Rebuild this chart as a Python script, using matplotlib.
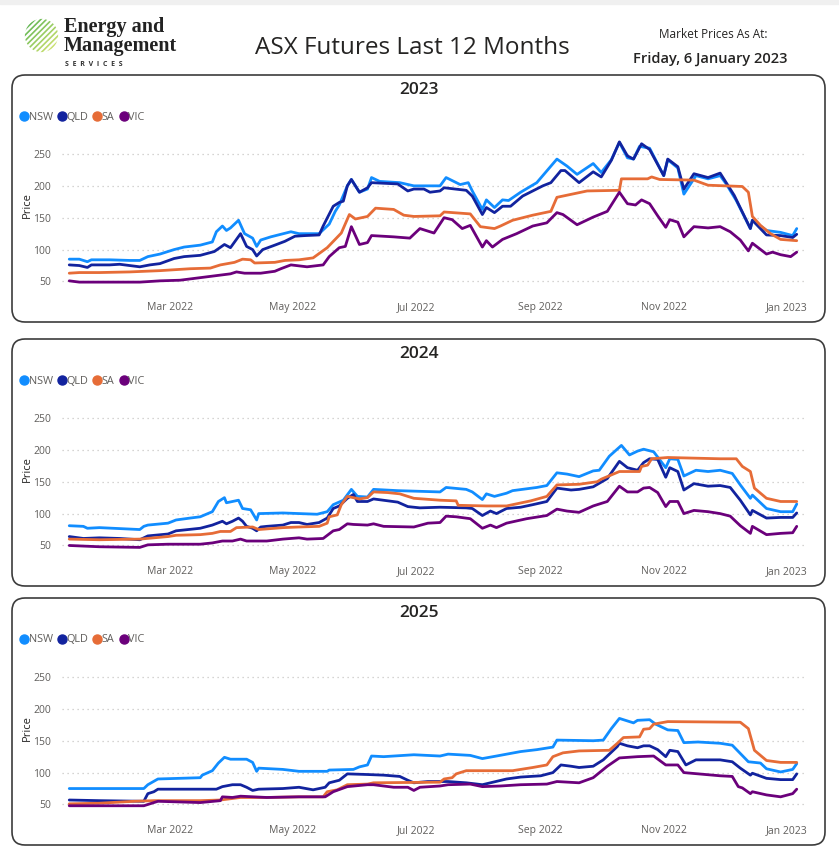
import numpy as np
import pandas as pd
import matplotlib.pyplot as plt
from matplotlib.patches import FancyBboxPatch, Circle, Rectangle
from matplotlib.lines import Line2D

plt.rcParams['font.family'] = ['Open Sans', 'DejaVu Sans']

# ---- data: (days since 1 Jan 2022, price) ----
nsw_2023 = [(9, 85), (14, 85), (18, 81), (20, 84), (29, 84), (39, 83), (44, 83), (48, 89), (54, 93),
            (61, 100), (66, 104), (74, 107), (80, 112), (82, 128), (85, 137), (87, 130), (89, 134),
            (93, 146), (96, 125), (100, 118), (102, 105), (104, 115), (109, 120), (114, 124),
            (119, 128), (123, 125), (133, 125), (138, 140), (141, 160), (143, 170), (147, 200),
            (149, 210), (153, 190), (157, 195), (159, 213), (163, 207), (173, 205), (180, 200),
            (193, 200), (196, 213), (203, 202), (207, 205), (209, 192), (214, 163), (216, 178),
            (220, 166), (224, 178), (227, 177), (233, 190), (241, 205), (251, 242), (256, 231),
            (261, 218), (269, 235), (273, 221), (278, 241), (282, 268), (286, 244), (289, 242),
            (292, 262), (297, 259), (304, 216), (306, 241), (311, 228), (314, 187), (320, 216),
            (326, 211), (332, 216), (335, 203), (340, 177), (347, 133), (348, 146), (355, 130),
            (362, 127), (368, 122), (370, 133)]
qld_2023 = [(9, 76), (14, 75), (18, 72), (20, 76), (29, 76), (34, 77), (39, 75), (44, 73), (49, 76),
            (54, 78), (61, 86), (66, 89), (74, 91), (81, 97), (86, 108), (89, 103), (94, 125),
            (97, 105), (100, 100), (102, 90), (105, 100), (111, 107), (116, 113), (121, 121),
            (126, 122), (133, 123), (135, 137), (140, 168), (143, 174), (145, 176), (147, 200),
            (149, 210), (153, 190), (157, 197), (159, 205), (172, 203), (177, 192), (180, 195),
            (185, 195), (188, 190), (193, 192), (195, 197), (206, 193), (209, 184), (214, 155),
            (216, 166), (220, 158), (224, 168), (228, 168), (234, 184), (244, 200), (248, 205),
            (253, 224), (255, 224), (262, 205), (269, 222), (273, 214), (278, 240), (282, 269),
            (286, 247), (289, 242), (293, 266), (297, 257), (304, 216), (306, 242), (311, 230),
            (314, 195), (319, 219), (326, 213), (332, 220), (335, 205), (339, 185), (347, 133),
            (348, 146), (355, 123), (362, 122), (368, 119), (370, 124)]
sa_2023 = [(9, 63), (14, 64), (24, 64), (39, 65), (54, 67), (69, 70), (79, 71), (84, 76), (91, 80),
           (95, 85), (99, 84), (101, 79), (111, 80), (116, 83), (123, 84), (130, 87), (137, 103),
           (144, 126), (148, 155), (151, 148), (157, 152), (161, 165), (170, 163), (175, 154),
           (180, 152), (193, 153), (195, 159), (208, 156), (213, 136), (220, 133), (223, 137),
           (229, 146), (239, 154), (248, 160), (251, 182), (266, 192), (282, 193), (283, 211),
           (296, 211), (298, 214), (302, 210), (319, 209), (326, 201), (343, 199), (346, 190),
           (348, 152), (352, 138), (357, 125), (362, 116), (370, 114)]
vic_2023 = [(9, 51), (14, 49), (24, 49), (44, 49), (54, 51), (64, 52), (74, 56), (84, 60), (89, 62),
            (92, 65), (96, 63), (104, 63), (111, 66), (114, 70), (119, 76), (127, 73), (135, 76),
            (138, 89), (143, 103), (146, 105), (149, 136), (153, 108), (157, 111), (159, 122),
            (170, 120), (178, 118), (183, 133), (190, 126), (195, 150), (199, 147), (204, 133),
            (208, 138), (214, 104), (216, 114), (219, 104), (224, 116), (231, 125), (239, 137),
            (246, 142), (251, 158), (254, 155), (261, 139), (269, 151), (276, 160), (282, 190),
            (286, 172), (290, 170), (293, 178), (297, 172), (301, 153), (305, 135), (307, 147),
            (311, 143), (314, 120), (319, 136), (326, 134), (332, 136), (337, 128), (342, 115),
            (346, 98), (348, 110), (355, 93), (358, 96), (362, 92), (367, 89), (370, 96)]

nsw_2024 = [(9, 81), (16, 80), (18, 77), (24, 78), (44, 75), (46, 80), (48, 82), (58, 85), (62, 90),
            (69, 93), (74, 95), (80, 103), (83, 119), (86, 125), (87, 117), (90, 119), (93, 121),
            (95, 108), (99, 106), (102, 90), (103, 100), (115, 101), (132, 99), (137, 103),
            (140, 114), (145, 121), (149, 138), (152, 127), (157, 126), (160, 138), (172, 136),
            (193, 134), (196, 141), (206, 138), (209, 134), (214, 122), (216, 131), (220, 127),
            (226, 132), (229, 136), (241, 141), (246, 144), (251, 164), (256, 162), (262, 158),
            (269, 167), (272, 168), (277, 190), (283, 207), (287, 192), (291, 198), (294, 201),
            (299, 197), (305, 172), (307, 186), (311, 185), (314, 159), (320, 168), (326, 166),
            (332, 168), (338, 163), (342, 145), (347, 124), (348, 129), (355, 108), (362, 103),
            (368, 103), (370, 115)]
qld_2024 = [(9, 64), (16, 61), (24, 62), (34, 61), (44, 59), (48, 65), (58, 68), (62, 73), (74, 77),
            (80, 82), (85, 88), (87, 84), (90, 88), (93, 93), (95, 88), (97, 80), (100, 77),
            (102, 73), (104, 79), (107, 80), (115, 82), (119, 86), (123, 86), (127, 83), (133, 86),
            (137, 93), (140, 108), (143, 112), (147, 124), (150, 130), (152, 119), (157, 119),
            (160, 123), (172, 118), (177, 111), (183, 109), (193, 110), (206, 109), (209, 108),
            (214, 97), (218, 104), (221, 100), (226, 108), (233, 110), (239, 114), (246, 119),
            (251, 140), (258, 137), (262, 138), (269, 142), (276, 155), (282, 182), (286, 172),
            (291, 168), (294, 180), (297, 186), (301, 185), (305, 157), (307, 172), (311, 166),
            (314, 137), (319, 147), (326, 143), (332, 144), (337, 141), (342, 121), (347, 98),
            (348, 105), (355, 93), (362, 94), (368, 94), (370, 101)]
sa_2024 = [(9, 60), (24, 59), (44, 60), (58, 64), (62, 66), (74, 67), (80, 69), (84, 72), (89, 72),
           (92, 78), (100, 79), (103, 75), (107, 76), (115, 78), (123, 79), (133, 80), (137, 85),
           (138, 95), (142, 98), (144, 114), (147, 127), (150, 125), (153, 123), (157, 125),
           (160, 134), (167, 133), (173, 131), (180, 124), (193, 121), (201, 120), (202, 113),
           (216, 112), (226, 112), (238, 120), (246, 127), (251, 145), (262, 146), (271, 150),
           (273, 154), (282, 166), (292, 166), (293, 174), (296, 176), (298, 186), (306, 188),
           (332, 186), (340, 186), (343, 174), (347, 166), (349, 140), (355, 124), (362, 119),
           (370, 119)]
vic_2024 = [(9, 50), (24, 48), (44, 47), (48, 51), (58, 52), (74, 52), (80, 54), (85, 57), (90, 57),
            (94, 60), (97, 57), (107, 57), (115, 60), (123, 62), (127, 60), (135, 61), (140, 73),
            (143, 75), (147, 84), (150, 83), (157, 82), (160, 84), (165, 80), (180, 79), (187, 85),
            (193, 86), (196, 96), (201, 95), (208, 92), (214, 77), (218, 82), (221, 78), (226, 85),
            (236, 92), (246, 97), (251, 107), (256, 104), (262, 102), (269, 112), (276, 119),
            (282, 143), (286, 134), (291, 134), (294, 140), (297, 141), (301, 133), (305, 111),
            (307, 119), (311, 119), (314, 100), (319, 105), (326, 103), (332, 100), (337, 96),
            (342, 81), (347, 69), (348, 80), (355, 67), (362, 69), (368, 70), (370, 80)]

nsw_2025 = [(9, 75), (46, 75), (48, 81), (53, 90), (74, 92), (75, 96), (80, 103), (83, 115),
            (86, 124), (89, 121), (97, 121), (100, 116), (102, 102), (103, 107), (115, 105),
            (123, 102), (137, 102), (138, 104), (150, 105), (153, 109), (157, 112), (159, 126),
            (165, 125), (170, 126), (180, 128), (193, 126), (197, 129), (208, 127), (214, 122),
            (221, 126), (233, 133), (241, 136), (249, 140), (251, 151), (269, 150), (274, 151),
            (278, 169), (282, 185), (286, 181), (289, 178), (291, 182), (297, 183), (300, 176),
            (306, 167), (311, 166), (314, 147), (321, 148), (332, 146), (338, 143), (346, 117),
            (352, 115), (355, 106), (362, 101), (368, 105), (370, 114)]
qld_2025 = [(9, 57), (24, 56), (46, 55), (48, 67), (51, 70), (53, 74), (82, 74), (85, 78), (90, 81),
            (94, 81), (97, 77), (100, 72), (103, 74), (115, 75), (123, 77), (130, 73), (136, 77),
            (138, 84), (143, 88), (147, 98), (157, 97), (165, 96), (173, 94), (177, 88), (180, 84),
            (187, 86), (197, 86), (206, 84), (214, 81), (226, 90), (233, 93), (243, 95), (249, 100),
            (253, 112), (258, 110), (262, 108), (269, 110), (274, 120), (281, 141), (282, 146),
            (286, 142), (291, 139), (294, 142), (297, 142), (301, 136), (305, 125), (307, 135),
            (311, 133), (315, 112), (320, 120), (332, 120), (338, 117), (342, 107), (347, 96),
            (348, 99), (355, 91), (362, 89), (368, 89), (370, 98)]
sa_2025 = [(9, 51), (24, 52), (41, 55), (51, 56), (74, 56), (84, 57), (94, 61), (107, 61), (123, 62),
           (135, 62), (137, 70), (142, 73), (147, 81), (157, 82), (160, 84), (193, 85), (195, 90),
           (199, 92), (201, 98), (206, 103), (229, 103), (239, 108), (246, 112), (249, 125),
           (254, 131), (262, 134), (277, 135), (281, 146), (284, 155), (292, 156), (294, 168),
           (297, 169), (299, 176), (306, 180), (342, 179), (346, 169), (349, 135), (355, 119),
           (362, 116), (370, 116)]
vic_2025 = [(9, 48), (46, 48), (51, 53), (53, 55), (74, 53), (84, 56), (85, 62), (90, 61), (94, 63),
            (107, 61), (123, 62), (136, 62), (140, 70), (147, 78), (157, 81), (160, 81), (170, 77),
            (177, 77), (180, 72), (183, 77), (193, 79), (197, 81), (208, 82), (214, 78), (223, 79),
            (233, 81), (246, 82), (251, 86), (262, 84), (269, 92), (276, 110), (282, 123),
            (291, 125), (299, 126), (305, 112), (311, 112), (314, 100), (332, 95), (338, 94),
            (341, 78), (343, 76), (347, 67), (348, 70), (355, 65), (362, 62), (368, 67), (370, 74)]

regions = ['NSW', 'QLD', 'SA', 'VIC']
colors = ['#118DFF', '#12239E', '#E66C37', '#6B007B']
panels = {
    '2023': [nsw_2023, qld_2023, sa_2023, vic_2023],
    '2024': [nsw_2024, qld_2024, sa_2024, vic_2024],
    '2025': [nsw_2025, qld_2025, sa_2025, vic_2025],
}
yticks = [50, 100, 150, 200, 250]
tick_dates = pd.to_datetime(['2022-03-01', '2022-05-01', '2022-07-01',
                             '2022-09-01', '2022-11-01', '2023-01-01'])
base = pd.Timestamp('2022-01-01')

# ---- figure, laid out in pixels ----
W, H = 839, 864
fig = plt.figure(figsize=(W / 100, H / 100), dpi=100)


def fx(px):
    return px / W


def fy(py):
    return 1 - py / H


# faint band at top
fig.patches.append(Rectangle((0, fy(4)), 1, 4 / H, transform=fig.transFigure,
                             color='#F0F0F0', zorder=-2))

# logo
ax_logo = fig.add_axes([fx(24), fy(53), 35 / W, 35 / H])
ax_logo.set_xlim(-1, 1)
ax_logo.set_ylim(-1, 1)
ax_logo.set_aspect('equal')
ax_logo.axis('off')
clip = Circle((0, 0), 0.95, transform=ax_logo.transData)
lime = np.array([0.84, 0.90, 0.45, 1.0])
green = np.array([0.35, 0.70, 0.32, 1.0])
for i, c in enumerate(np.linspace(-1.6, 1.6, 11)):
    col = lime * (1 - i / 10) + green * (i / 10)
    ln, = ax_logo.plot([-1.2, 1.2], [-1.2 + c, 1.2 + c], color=col, lw=1.2)
    ln.set_clip_path(clip)

fig.text(fx(64), fy(27), 'Energy and', fontsize=14.5, fontweight='bold',
         family='Liberation Serif', color='#222222', va='center')
fig.text(fx(64), fy(46), 'Management', fontsize=14.5, fontweight='bold',
         family='Liberation Serif', color='#222222', va='center')
fig.text(fx(65), fy(65), 'S  E  R  V  I  C  E  S', fontsize=5, fontweight='bold',
         color='#333333', va='center')

fig.text(fx(412), fy(48), 'ASX Futures Last 12 Months', fontsize=17.5,
         color='#252423', ha='center', va='center')
fig.text(fx(713), fy(34), 'Market Prices As At:', fontsize=8.5,
         color='#252423', ha='center', va='center')
fig.text(fx(710), fy(59), 'Friday, 6 January 2023', fontsize=10.5,
         fontweight='semibold', color='#252423', ha='center', va='center')

tops = [75, 339, 598]
for (year, series), T in zip(panels.items(), tops):
    box = FancyBboxPatch((12 / 100, (H - T - 247) / 100), 813 / 100, 247 / 100,
                         boxstyle='round,pad=0,rounding_size=0.13',
                         transform=fig.dpi_scale_trans, facecolor='none',
                         edgecolor='#3C3C3C', lw=1.2, zorder=-1)
    fig.patches.append(box)

    fig.text(fx(419), fy(T + 15), year, fontsize=12.5, fontweight='semibold',
             color='#252423', ha='center', va='center')

    ax = fig.add_axes([fx(62), fy(T + 217), (806 - 62) / W, 162 / H])
    ax.set_facecolor('none')
    for data, name, col in zip(series, regions, colors):
        days = [d for d, v in data]
        vals = [v for d, v in data]
        dates = base + pd.to_timedelta(days, unit='D')
        ax.plot(dates, vals, color=col, lw=2.0, label=name,
                solid_joinstyle='round', solid_capstyle='round')

    ax.set_xlim(base + pd.Timedelta(days=5.4), base + pd.Timedelta(days=374.6))
    ax.set_ylim(33.5, 287.6)
    ax.set_yticks(yticks)
    ax.set_xticks(tick_dates)
    ax.set_xticklabels([d.strftime('%b %Y') for d in tick_dates])
    ax.tick_params(axis='both', length=0, labelsize=7.5, labelcolor='#605E5C')
    ax.tick_params(axis='x', pad=7)
    ax.tick_params(axis='y', pad=8)
    ax.yaxis.grid(True, linestyle=(0, (1, 3)), color='#C8C6C4', lw=0.9)
    for s in ax.spines.values():
        s.set_visible(False)

    fig.text(fx(27), fy(T + 130), 'Price', rotation=90, fontsize=8,
             color='#252423', ha='center', va='center')

    handles = [Line2D([], [], marker='o', ls='', color=c, markersize=6.5) for c in colors]
    ax.legend(handles, regions, loc='center left', ncol=4, frameon=False,
              bbox_to_anchor=(fx(19), fy(T + 42)), bbox_transform=fig.transFigure,
              fontsize=7.8, handletextpad=-0.1, columnspacing=0.35, handlelength=1.0,
              labelcolor='#605E5C', borderaxespad=0, borderpad=0)

fig.savefig('out.png', dpi=100)
